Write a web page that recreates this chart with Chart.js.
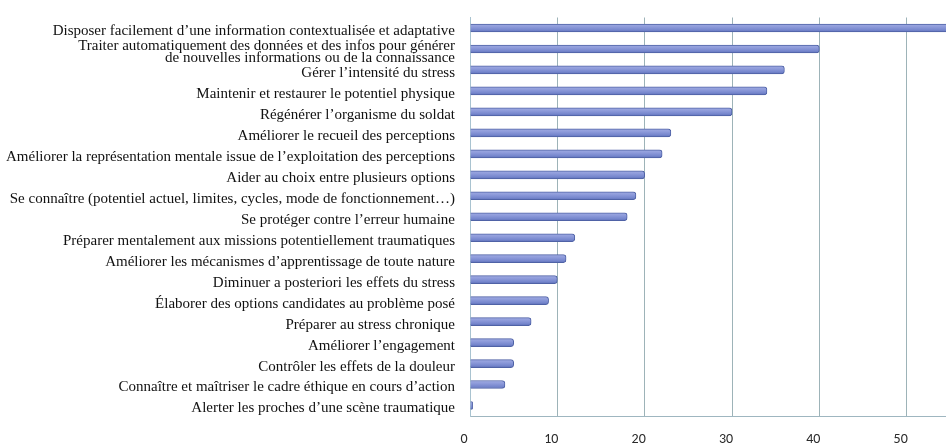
<!DOCTYPE html>
<html>
<head>
<meta charset="utf-8">
<script src="https://cdn.jsdelivr.net/npm/chart.js@4"></script>
<style>
html,body{margin:0;padding:0;background:#fff;}
#wrap{width:946px;height:445px;}
</style>
</head>
<body>
<div id="wrap"><canvas id="c" width="946" height="445"></canvas></div>
<script>
const categories = [
  "Disposer facilement d’une information contextualisée et adaptative",
  ["Traiter automatiquement des données et des infos pour générer", "de nouvelles informations ou de la connaissance"],
  "Gérer l’intensité du stress",
  "Maintenir et restaurer le potentiel physique",
  "Régénérer l’organisme du soldat",
  "Améliorer le recueil des perceptions",
  "Améliorer la représentation mentale issue de l’exploitation des perceptions",
  "Aider au choix entre plusieurs options",
  "Se connaître (potentiel actuel, limites, cycles, mode de fonctionnement…)",
  "Se protéger contre l’erreur humaine",
  "Préparer mentalement aux missions potentiellement traumatiques",
  "Améliorer les mécanismes d’apprentissage de toute nature",
  "Diminuer a posteriori les effets du stress",
  "Élaborer des options candidates au problème posé",
  "Préparer au stress chronique",
  "Améliorer l’engagement",
  "Contrôler les effets de la douleur",
  "Connaître et maîtriser le cadre éthique en cours d’action",
  "Alerter les proches d’une scène traumatique"
];
const values = [55, 40, 36, 34, 30, 23, 22, 20, 19, 18, 12, 11, 10, 9, 7, 5, 5, 4, 0.3];
const xTicks = [0, 10, 20, 30, 40, 50];

function barFill(ctx) {
  const chart = ctx.chart;
  const meta = chart.getDatasetMeta(0);
  const el = meta && meta.data ? meta.data[ctx.dataIndex] : null;
  if (!el || el.y == null || isNaN(el.y)) return '#8795d6';
  const g = chart.ctx.createLinearGradient(0, el.y - 4.5, 0, el.y + 4.5);
  g.addColorStop(0, '#a3aee3');
  g.addColorStop(0.35, '#8f9cdb');
  g.addColorStop(0.75, '#7485cc');
  g.addColorStop(1, '#5466ad');
  return g;
}

const chart = new Chart(document.getElementById('c'), {
  type: 'bar',
  data: {
    labels: categories,
    datasets: [{
      data: values,
      backgroundColor: barFill,
      borderColor: '#4f62a6',
      borderWidth: 1,
      borderSkipped: 'start',
      borderRadius: {topRight: 3, bottomRight: 3},
      barThickness: 8
    }]
  },
  options: {
    indexAxis: 'y',
    responsive: false,
    animation: false,
    layout: {padding: {top: 17.5, right: 0, bottom: 0, left: 0}},
    plugins: {legend: {display: false}, tooltip: {enabled: false}},
    scales: {
      x: {
        min: 0, max: 54.5,
        afterBuildTicks: (s) => { s.ticks = xTicks.map(v => ({value: v})); },
        afterFit: (s) => { s.height = 29; s.paddingLeft = 0; s.paddingRight = 0; },
        grid: {color: '#9db3b8', lineWidth: 1, drawTicks: false},
        border: {display: true, color: '#9fb6c0'},
        ticks: {color: '#2a2a2a', font: {family: 'Carlito, "Liberation Sans", sans-serif', size: 14}, padding: 15, labelOffset: -6, maxRotation: 0}
      },
      y: {
        afterFit: (s) => { s.width = 470; s.paddingTop = 0; s.paddingBottom = 0; },
        grid: {display: false},
        border: {display: true, color: '#a9c3d0'},
        ticks: {color: '#111', font: {family: '"Liberation Serif", serif', size: 15, lineHeight: 0.85}, padding: 7, labelOffset: 3, autoSkip: false}
      }
    }
  }
});
chart.update();
</script>
</body>
</html>
